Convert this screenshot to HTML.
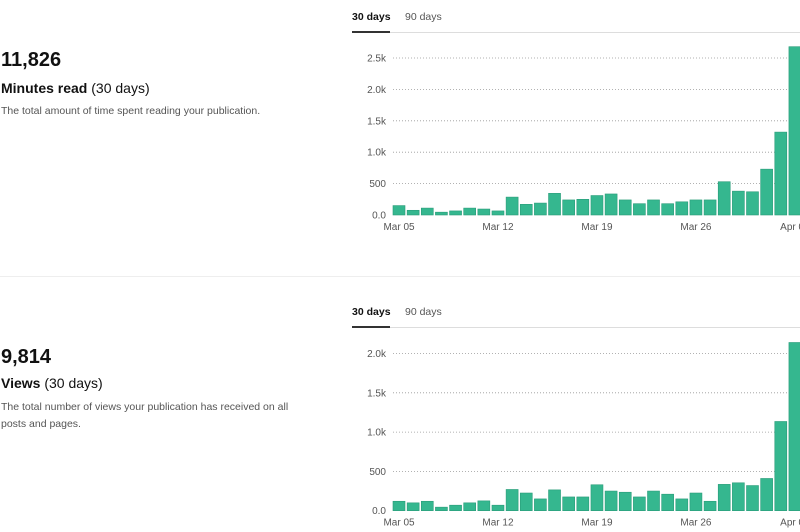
<!DOCTYPE html>
<html><head><meta charset="utf-8"><style>
body{margin:0;width:800px;height:532px;overflow:hidden;background:#fff;font-family:"Liberation Sans",sans-serif;position:relative;color:#111}
.t{position:absolute;white-space:nowrap}
.num{font-size:20px;font-weight:bold;left:1px}
.ttl{font-size:14px;left:1px}
.ttl b{font-weight:bold}
.desc{font-size:10.5px;color:#555;left:1px;line-height:17px}
.tab{font-size:10.5px}
svg text{font-family:"Liberation Sans",sans-serif;font-size:10px;fill:#555}
</style></head><body>
<div class="t num" style="top:49px">11,826</div>
<div class="t ttl" style="top:80px"><b>Minutes read</b> (30 days)</div>
<div class="t desc" style="top:103px">The total amount of time spent reading your publication.</div>
<div style="position:absolute;left:0;top:276px;width:800px;height:1px;background:#eee"></div>
<div class="t num" style="top:346px">9,814</div>
<div class="t ttl" style="top:375px"><b>Views</b> (30 days)</div>
<div class="t desc" style="top:399px">The total number of views your publication has received on all<br>posts and pages.</div>
<svg id="svg" width="800" height="532" style="position:absolute;left:0;top:0"></svg>
<script>
const dates=["Mar 05","Mar 12","Mar 19","Mar 26","Apr 02"];
const minutesRead=[150,75,110,45,65,110,95,65,285,170,190,345,240,250,310,335,240,180,240,180,210,240,240,530,380,370,730,1320,2680];
const views=[120,100,120,45,70,100,125,70,270,225,150,265,175,175,330,250,235,175,250,210,150,225,120,335,355,320,410,1135,2140];
const ticks1=[0,500,1000,1500,2000,2500];
const ticks2=[0,500,1000,1500,2000];
const NS="http://www.w3.org/2000/svg";
const svg=document.getElementById('svg');
function mk(tag,attrs){const e=document.createElementNS(NS,tag);for(const k in attrs)e.setAttribute(k,attrs[k]);svg.appendChild(e);return e;}
function fmt(v){return v===0?"0.0":(v>=1000?(v/1000).toFixed(1)+"k":String(v));}
function chart(name,data,ticks,top,base,pxPer500){
  const y=v=>base-v/500*pxPer500;
  const x=i=>399+i*14.14;
  // tabs
  let t=mk('text',{x:352,y:top+4,style:'font-size:10.5px;fill:#111;font-weight:bold'});t.textContent="30 days";
  
  
  t=mk('text',{x:405,y:top+4,style:'font-size:10.5px;fill:#555'});t.textContent="90 days";
  
  
  let l=mk('rect',{x:352,y:top+16,width:448,height:1,fill:'#ddd'});
  
  
  l=mk('rect',{x:352,y:top+15,width:38,height:2,fill:'#333'});
  
  
  ticks.forEach(v=>{
    if(v>0){const g=mk('line',{x1:393,x2:800,y1:y(v),y2:y(v),stroke:'#999','stroke-dasharray':'1,2','stroke-width':0.8});
    
    }
    const tx=mk('text',{x:386,y:y(v)+3.5,'text-anchor':'end'});tx.textContent=fmt(v);
    
    
  });
  data.forEach((v,i)=>{
    const b=mk('rect',{x:x(i)-6,y:y(v),width:12,height:base-y(v),fill:'#35b78f',stroke:'#2a9c79','stroke-width':0.6});
    
    
  });
  dates.forEach((d,j)=>{
    const tx=mk('text',{x:x(j*7),y:base+15,'text-anchor':'middle'});tx.textContent=d;
    
    
  });
}
chart('minutes-read-chart',minutesRead,ticks1,16,215,31.4);
chart('views-chart',views,ticks2,311,510.7,39.3);
</script>
</body></html>
